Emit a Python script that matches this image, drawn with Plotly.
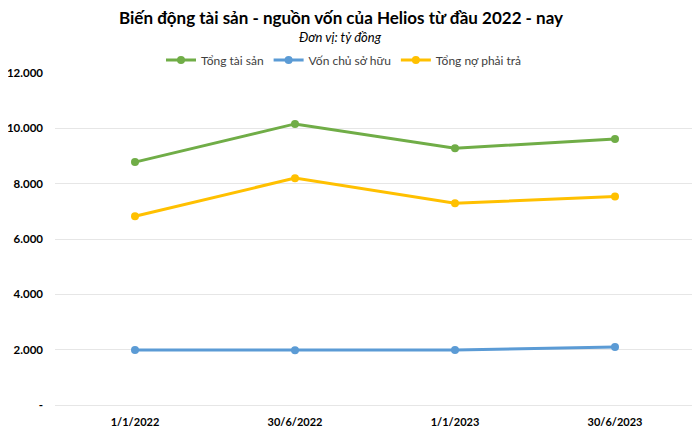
import plotly.graph_objects as go

# Data (tỷ đồng)
periods = ["1/1/2022", "30/6/2022", "1/1/2023", "30/6/2023"]
tong_tai_san = [8780, 10160, 9280, 9610]
von_chu_so_huu = [1990, 1980, 1990, 2100]
tong_no_phai_tra = [6820, 8200, 7290, 7540]

y_ticks = [0, 2000, 4000, 6000, 8000, 10000, 12000]
y_tick_labels = ["-", "2.000", "4.000", "6.000", "8.000", "10.000", "12.000"]

FONT = "Lato"

# page body has an 8px margin, so the figure is a bit smaller than the window
W, H = 692, 426
L, R, T, B = 47, 5, 65, 29
plot_h = H - T - B
plot_w = W - L - R

fig = go.Figure()

series = [
    ("Tổng tài sản", tong_tai_san, "#70AD47"),
    ("Vốn chủ sở hữu", von_chu_so_huu, "#5B9BD5"),
    ("Tổng nợ phải trả", tong_no_phai_tra, "#FFC000"),
]
for name, vals, color in series:
    fig.add_trace(go.Scatter(
        x=periods, y=vals, name=name, mode="lines+markers",
        line=dict(color=color, width=3),
        marker=dict(color=color, size=8),
    ))

fig.update_layout(
    width=W, height=H,
    paper_bgcolor="white", plot_bgcolor="white",
    font=dict(family=FONT, color="#000000"),
    margin=dict(l=L, r=R, t=T, b=B, autoexpand=False),
    title=dict(
        text="<b>Biến động tài sản - nguồn vốn của Helios từ đầu 2022 - nay</b>",
        x=333 / W, xanchor="center", y=1 - 10 / H, yanchor="middle",
        font=dict(size=17, family=FONT, color="#000000"),
    ),
    legend=dict(
        orientation="h", x=(336 - L) / plot_w, xanchor="center",
        y=1 + 13 / plot_h, yanchor="middle",
        font=dict(size=12, family=FONT, color="#404040"),
        itemwidth=30, traceorder="normal",
    ),
    showlegend=True,
)

fig.add_annotation(
    text="<i>Đơn vị: tỷ đồng</i>", xref="paper", yref="paper",
    x=(332 - L) / plot_w, y=1 + 36 / plot_h, xanchor="center", yanchor="middle",
    showarrow=False, font=dict(size=13, family=FONT, color="#000000"),
)

fig.update_xaxes(
    type="category", range=[-0.5, 3.5], automargin=False,
    showgrid=False, showline=False, zeroline=False,
    ticks="", ticklabelstandoff=9,
    tickfont=dict(size=11, family=FONT, weight="bold"),
)
fig.update_yaxes(
    range=[0, 12000], tickvals=y_ticks, ticktext=y_tick_labels, automargin=False,
    showgrid=True, gridcolor="#E6E6E6", gridwidth=1,
    zeroline=True, zerolinecolor="#E6E6E6", zerolinewidth=1,
    showline=False, ticks="", ticklabelstandoff=11,
    tickfont=dict(size=11.5, family=FONT, weight="bold"),
)

fig.write_html("out.html")
